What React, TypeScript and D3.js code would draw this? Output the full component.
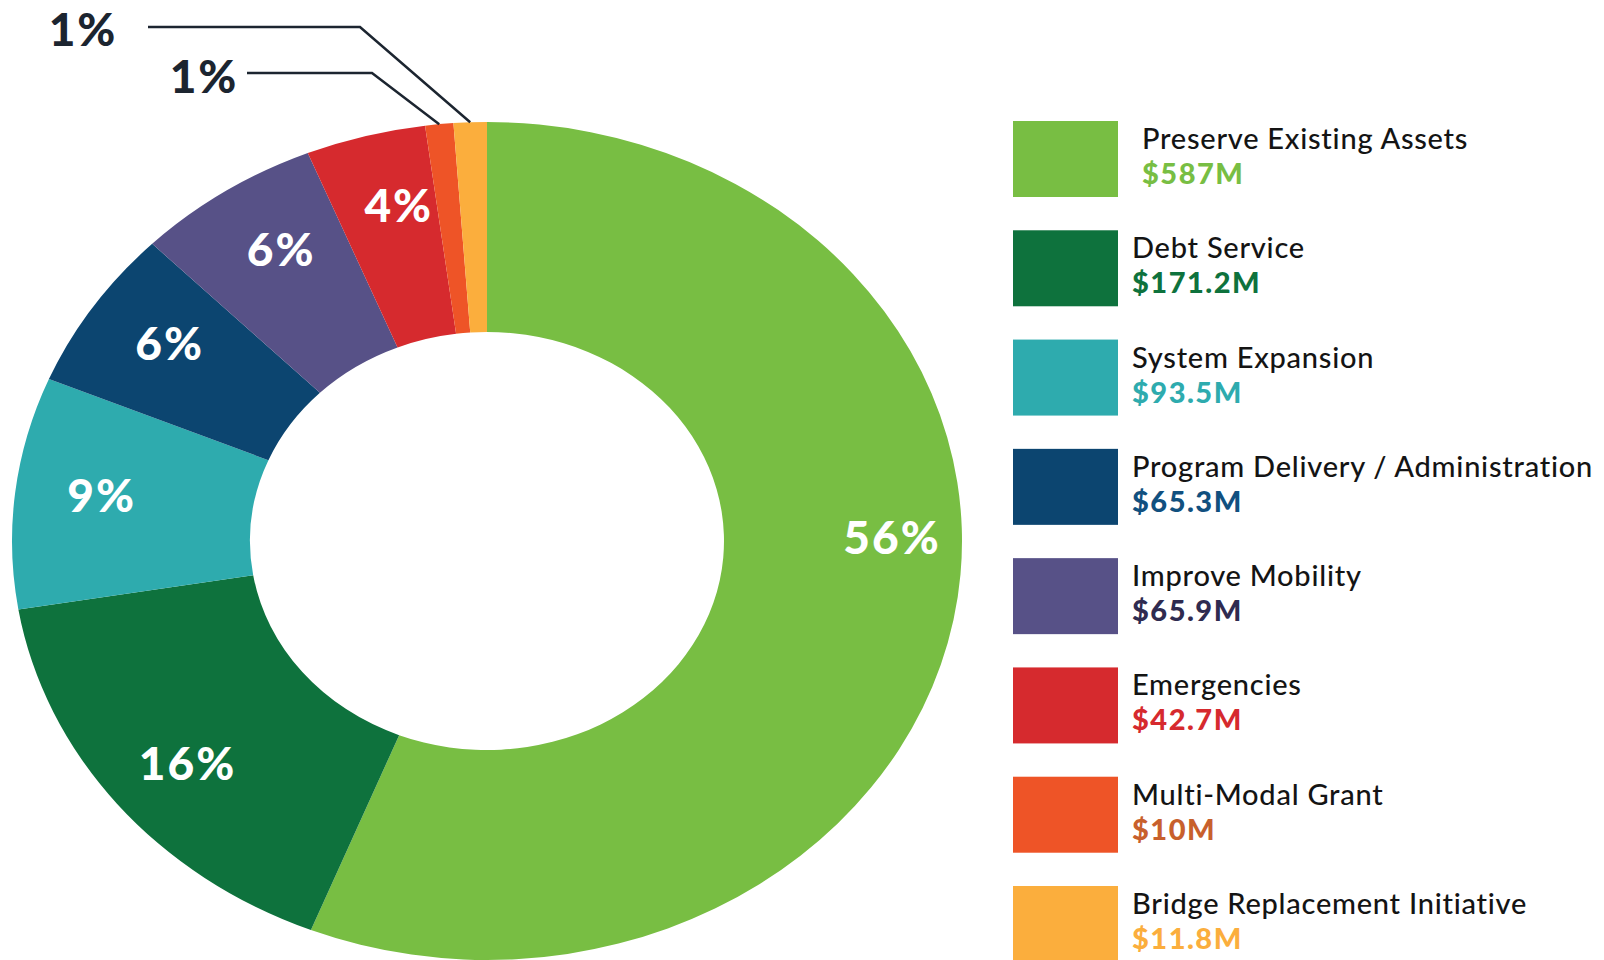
import React from "react";
import * as d3 from "d3";

const categories = [
  "Preserve Existing Assets",
  "Debt Service",
  "System Expansion",
  "Program Delivery / Administration",
  "Improve Mobility",
  "Emergencies",
  "Multi-Modal Grant",
  "Bridge Replacement Initiative",
];
const amounts = [587, 171.2, 93.5, 65.3, 65.9, 42.7, 10, 11.8];
const sliceColors = [
  "#78be43",
  "#0e723d",
  "#2eabae",
  "#0c4570",
  "#575187",
  "#d62a2e",
  "#ee5427",
  "#fbae3d",
];
const amountColors = [
  "#78be43",
  "#0e723d",
  "#2eabae",
  "#11507f",
  "#2f2b50",
  "#d62a2e",
  "#c8602c",
  "#fbae3d",
];

const W = 1604;
const H = 960;
const cx = 487;
const cy = 541;
const outerR = 475;
const innerR = 237;
const ky = 0.882; // the donut is squashed vertically

const pctColor = "#1c2530";

// outside labels for the two thin slices: [label x, label y, line start x, elbow x, line y]
const outside: Record<number, number[]> = {
  7: [83, 29, 148, 360, 27],
  6: [204, 76, 247, 372, 73],
};

export default function App() {
  const total = d3.sum(amounts);
  const pie = d3
    .pie<number>()
    .sort(null)
    .value((d) => d);
  const arcs = pie(amounts);
  const arc = d3.arc<d3.PieArcDatum<number>>().innerRadius(innerR).outerRadius(outerR);

  const pct = (v: number) => `${Math.round((v / total) * 100)}%`;
  const pointAt = (m: number, r: number) => [cx + r * Math.sin(m), cy - r * ky * Math.cos(m)];
  const mid = (a: d3.PieArcDatum<number>) => (a.startAngle + a.endAngle) / 2;

  const legendY = d3.scaleLinear().domain([0, 7]).range([121, 886]);

  const pctStyle = {
    fontFamily: "Lato, sans-serif",
    fontWeight: 900,
    fontSize: 46,
    letterSpacing: 2,
  } as const;

  return (
    <svg
      width={W}
      height={H}
      style={{ position: "absolute", left: 0, top: 0, background: "#fff" }}
    >
      <g transform={`translate(${cx},${cy}) scale(1,${ky})`}>
        {arcs.map((a, i) => (
          <path key={i} d={arc(a) || ""} fill={sliceColors[i]} />
        ))}
      </g>

      {arcs.map((a, i) => {
        if (outside[i]) {
          const [lx, ly, sx, ex, y] = outside[i];
          const [px, py] = pointAt(mid(a), outerR);
          return (
            <g key={i}>
              <polyline
                points={`${sx},${y} ${ex},${y} ${px},${py}`}
                fill="none"
                stroke={pctColor}
                strokeWidth={2.5}
              />
              <text x={lx} y={ly} dy="0.36em" textAnchor="middle" fill={pctColor} {...pctStyle}>
                {pct(amounts[i])}
              </text>
            </g>
          );
        }
        // the big slice's label sits level with the centre, on the right
        const [x, y] =
          i === 0 ? pointAt(Math.PI / 2, 405) : pointAt(mid(a) + (i === 1 ? -0.01 : 0.02), 394);
        return (
          <text
            key={i}
            x={x + (i === 0 ? 0 : 5)}
            y={y + (i === 0 ? -4 : 2)}
            dy="0.36em"
            textAnchor="middle"
            fill="#fff"
            {...pctStyle}
          >
            {pct(amounts[i])}
          </text>
        );
      })}

      {categories.map((c, i) => {
        const y = legendY(i);
        const tx = i === 0 ? 1142 : 1132;
        return (
          <g key={c}>
            <rect x={1013} y={y} width={105} height={76} fill={sliceColors[i]} />
            <text
              x={tx}
              y={y + 28}
              fill="#141414"
              fontFamily="Lato, sans-serif"
              fontWeight={500}
              fontSize={29}
              letterSpacing={0.75}
            >
              {c}
            </text>
            <text
              x={tx}
              y={y + 63}
              fill={amountColors[i]}
              fontFamily="Lato, sans-serif"
              fontWeight={900}
              fontSize={29}
              letterSpacing={1.5}
            >
              {`$${amounts[i]}M`}
            </text>
          </g>
        );
      })}
    </svg>
  );
}
